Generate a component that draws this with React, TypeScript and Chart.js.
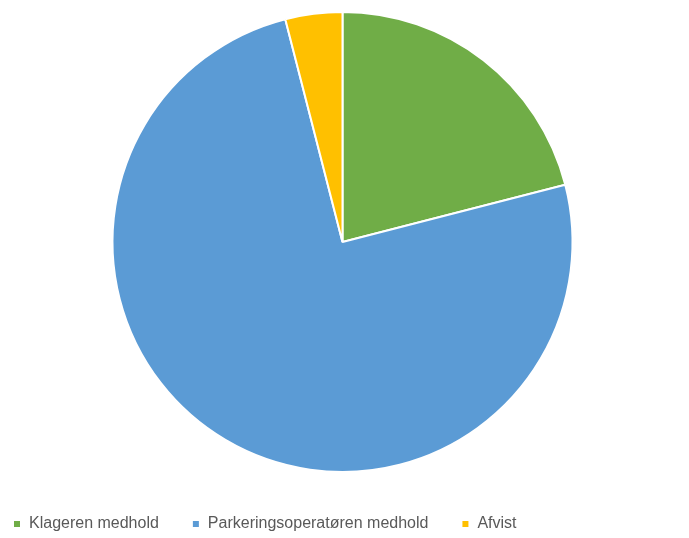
import React, { useEffect, useRef } from "react";
import { Chart, registerables } from "chart.js";

Chart.register(...registerables);

const categories = ["Klageren medhold", "Parkeringsoperatøren medhold", "Afvist"];
const values = [21, 75, 4];
const colors = ["#70AD47", "#5B9BD5", "#FFC000"];

export default function App() {
  const ref = useRef<HTMLCanvasElement | null>(null);
  useEffect(() => {
    if (!ref.current) return;
    const chart = new Chart(ref.current, {
      type: "pie",
      data: {
        labels: categories,
        datasets: [
          {
            data: values,
            backgroundColor: colors,
            borderColor: "#FFFFFF",
            borderWidth: 2,
          },
        ],
      },
      options: {
        responsive: false,
        animation: false,
        radius: 230,
        layout: { padding: { top: 1, bottom: 10, left: 0, right: 0 } },
        plugins: {
          tooltip: { enabled: false },
          legend: {
            position: "bottom",
            align: "start",
            labels: {
              boxWidth: 8,
              boxHeight: 8,
              padding: 33,
              color: "#595959",
              font: { family: "'Liberation Sans', Arial, sans-serif", size: 16 },
            },
          },
        },
      },
    });
    return () => chart.destroy();
  }, []);
  return (
    <div style={{ position: "fixed", left: 0, top: 0, width: 689, height: 538, overflow: "hidden", background: "#fff" }}>
      <canvas ref={ref} width={725} height={552} style={{ position: "absolute", left: -20, top: 0, width: 725, height: 552 }} />
    </div>
  );
}
